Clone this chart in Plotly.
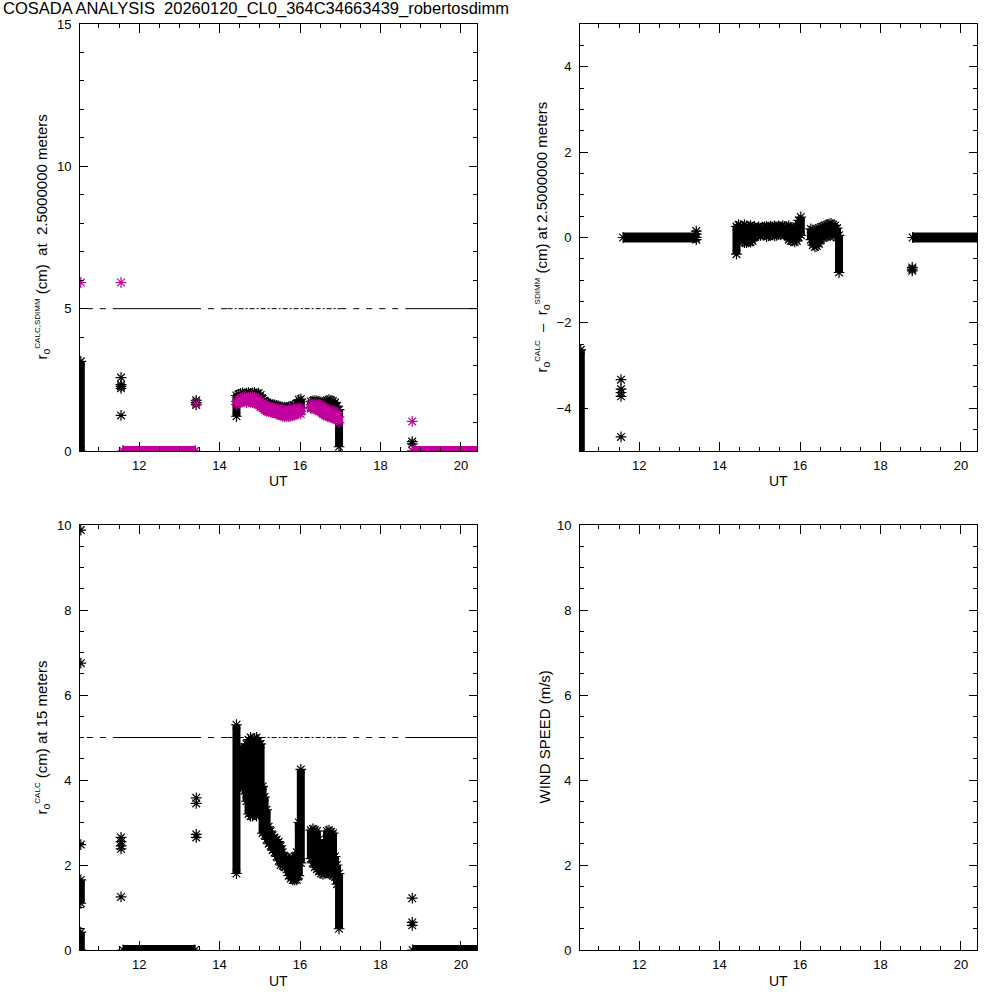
import plotly.graph_objects as go

# ---------------- data ----------------
TITLE = "COSADA ANALYSIS\u00a0 20260120_CL0_364C34663439_robertosdimm"
ut_ticks = [12, 14, 16, 18, 20]
ut_range = [10.53, 20.40]

# dense observing block (UT hours)
band_t = [14.42, 14.47, 14.52, 14.57, 14.62, 14.67, 14.72, 14.77, 14.82, 14.87,
          14.92, 14.97, 15.02, 15.07, 15.12, 15.17, 15.22, 15.27, 15.32, 15.37,
          15.42, 15.47, 15.52, 15.57, 15.62, 15.67, 15.72, 15.77, 15.82, 15.87,
          15.92, 15.97, 16.02, 16.07, 16.12, 16.17, 16.22, 16.27, 16.32, 16.37,
          16.42, 16.47, 16.52, 16.57, 16.62, 16.67, 16.72, 16.77, 16.82, 16.87,
          16.92, 16.97]
N = None
# r0 CALC at 2.5 m (black) - low / high of scatter per time
tl_blk_lo = [1.22, 1.73, 1.75, 1.77, 1.79, 1.75, 1.78, 1.76, 1.75, 1.73,
             1.71, 1.67, 1.60, 1.55, 1.49, 1.45, 1.43, 1.41, 1.40, 1.38,
             1.35, 1.33, 1.30, 1.27, 1.26, 1.25, 1.26, 1.27, 1.29, 1.31,
             1.35, 1.40, 1.40, N, N, N, N, 1.53, 1.55, 1.53,
             1.50, 1.45, 1.40, 1.35, 1.31, 1.27, 1.25, 1.23, 1.20, 1.17,
             1.15, 0.15]
tl_blk_hi = [1.95, 1.99, 2.02, 2.04, 2.01, 2.03, 2.05, 2.02, 2.04, 2.05,
             2.01, 2.03, 1.97, 1.83, 1.77, 1.71, 1.67, 1.65, 1.63, 1.62,
             1.60, 1.58, 1.55, 1.54, 1.53, 1.52, 1.55, 1.57, 1.60, 1.61,
             1.66, 1.80, 1.82, N, N, N, N, 1.74, 1.76, 1.77,
             1.76, 1.74, 1.72, 1.70, 1.72, 1.78, 1.80, 1.78, 1.75, 1.70,
             1.58, 1.45]
# r0 SDIMM at 2.5 m (magenta)
tl_mag_lo = [1.64, 1.68, 1.70, 1.72, 1.74, 1.70, 1.73, 1.71, 1.70, 1.68,
             1.66, 1.62, 1.55, 1.50, 1.44, 1.40, 1.38, 1.36, 1.35, 1.33,
             1.30, 1.28, 1.25, 1.22, 1.21, 1.20, 1.21, 1.22, 1.24, 1.26,
             1.30, 1.32, 1.30, N, N, N, N, 1.48, 1.50, 1.48,
             1.45, 1.40, 1.35, 1.30, 1.26, 1.22, 1.20, 1.18, 1.15, 1.12,
             1.10, 1.00]
tl_mag_hi = [1.74, 1.80, 1.84, 1.88, 1.90, 1.86, 1.89, 1.91, 1.87, 1.88,
             1.85, 1.82, 1.74, 1.68, 1.62, 1.58, 1.56, 1.55, 1.52, 1.50,
             1.49, 1.48, 1.46, 1.44, 1.43, 1.42, 1.44, 1.45, 1.46, 1.47,
             1.50, 1.52, 1.50, N, N, N, N, 1.62, 1.64, 1.66,
             1.65, 1.63, 1.60, 1.56, 1.52, 1.48, 1.45, 1.43, 1.40, 1.38,
             1.35, 1.20]
# r0 CALC - r0 SDIMM
tr_lo = [-0.39, -0.02, -0.05, -0.10, -0.12, -0.12, -0.10, -0.11, -0.08, 0.02,
         0.05, 0.05, 0.05, 0.08, 0.06, 0.02, 0.04, 0.05, 0.06, 0.04,
         0.05, 0.08, 0.06, 0.10, 0.05, 0.06, -0.05, -0.08, -0.08, -0.10,
         -0.08, 0.00, 0.05, N, N, N, N, -0.05, -0.18, -0.22,
         -0.20, -0.15, -0.05, 0.00, 0.02, 0.02, 0.05, 0.08, 0.05, 0.04,
         0.00, -0.82]
tr_hi = [0.26, 0.30, 0.28, 0.26, 0.30, 0.27, 0.25, 0.28, 0.24, 0.26,
         0.22, 0.25, 0.22, 0.24, 0.25, 0.26, 0.24, 0.26, 0.25, 0.27,
         0.25, 0.27, 0.25, 0.28, 0.26, 0.25, 0.27, 0.24, 0.20, 0.22,
         0.25, 0.40, 0.48, N, N, N, N, 0.20, 0.18, 0.15,
         0.18, 0.22, 0.24, 0.25, 0.28, 0.30, 0.32, 0.33, 0.30, 0.28,
         0.22, 0.05]
# r0 CALC at 15 m
bl_lo = [1.80, 3.90, 3.85, 3.80, 3.75, 3.50, 3.20, 3.15, 3.15, 3.20,
         3.15, 3.20, 3.30, 2.75, 2.70, 2.60, 2.50, 2.45, 2.35, 2.30,
         2.20, 2.10, 2.00, 1.98, 1.95, 1.90, 1.75, 1.68, 1.65, 1.65,
         1.65, 1.75, 2.05, N, N, N, N, 2.15, 2.05, 1.95,
         1.90, 1.85, 1.80, 1.78, 1.80, 1.82, 1.80, 1.78, 1.75, 1.72,
         1.55, 0.50]
bl_hi = [5.30, 4.75, 4.70, 4.72, 4.78, 4.85, 4.95, 5.00, 4.95, 4.98,
         5.00, 4.92, 4.85, 3.85, 3.60, 3.30, 2.90, 2.80, 2.70, 2.65,
         2.60, 2.55, 2.45, 2.30, 2.20, 2.18, 2.15, 2.12, 2.15, 2.20,
         2.30, 3.00, 4.25, N, N, N, N, 2.82, 2.85, 2.82,
         2.80, 2.60, 2.45, 2.40, 2.50, 2.80, 2.82, 2.78, 2.75, 2.20,
         2.00, 1.80]

# stacked samples at the start of the night (UT, low, high)
tl_col_t, tl_col_lo, tl_col_hi = [10.55], [0.0], [3.15]
tr_col_t, tr_col_lo, tr_col_hi = [10.55], [-5.3], [-2.63]
bl_col_t, bl_col_lo, bl_col_hi = [10.55, 10.55], [0.0, 1.10], [0.42, 1.65]

# isolated samples
tl_blk_pt_t = [11.55, 11.55, 11.55, 11.55, 11.55, 13.42, 13.42, 13.42, 18.79, 18.79]
tl_blk_pt_v = [2.58, 2.33, 2.27, 2.20, 1.25, 1.78, 1.70, 1.62, 0.33, 0.25]
tl_mag_pt_t = [10.55, 11.55, 13.42, 18.79]
tl_mag_pt_v = [5.92, 5.92, 1.66, 1.04]
tr_pt_t = [11.55, 11.55, 11.55, 11.55, 11.55, 13.42, 13.42, 13.42, 13.42, 18.79, 18.79, 18.79]
tr_pt_v = [-3.33, -3.55, -3.63, -3.72, -4.67, 0.15, 0.08, 0.00, -0.05, -0.70, -0.74, -0.78]
bl_pt_t = [10.55, 10.55, 10.55, 11.55, 11.55, 11.55, 11.55, 11.55, 13.42, 13.42, 13.42, 13.42,
           18.79, 18.79, 18.79]
bl_pt_v = [2.48, 6.75, 9.88, 2.65, 2.55, 2.45, 2.38, 1.25, 3.58, 3.45, 2.72, 2.65,
           1.22, 0.65, 0.58]

# runs of zero-valued samples (UT start, UT end)
zero_t0 = [11.60, 18.80]
zero_t1 = [13.39, 20.50]

# 5 cm reference level, drawn with IDL-like line styles per UT segment
ref_level = 5.0
ref_dash_t0 = [10.70, 13.39, 17.00]
ref_dash_t1 = [11.45, 14.20, 18.62]
ref_solid_t0 = [11.45, 18.62]
ref_solid_t1 = [13.39, 20.40]
ref_dot_t0 = [14.20]
ref_dot_t1 = [17.00]

# ---------------- styling ----------------
FONT = "Liberation Sans"
BLACK = "#000000"
MAGENTA = "#C2009E"
MSIZE = 9
COLW = 8

fig = go.Figure()


def add_points(ts, vs, color, xa, ya):
    fig.add_trace(go.Scatter(x=ts, y=vs, mode="markers",
                             marker=dict(symbol="asterisk-open", size=MSIZE, color=color,
                                         line=dict(color=color, width=1.2)),
                             xaxis=xa, yaxis=ya, hoverinfo="skip"))


def add_columns(ts, los, his, color, xa, ya):
    xs, ys, mx, my = [], [], [], []
    for t, lo, hi in zip(ts, los, his):
        if lo is None or hi is None:
            continue
        xs += [t, t, None]
        ys += [lo, hi, None]
        mx += [t, t]
        my += [lo, hi]
    fig.add_trace(go.Scatter(x=xs, y=ys, mode="lines", line=dict(color=color, width=COLW),
                             connectgaps=False, xaxis=xa, yaxis=ya, hoverinfo="skip"))
    add_points(mx, my, color, xa, ya)


def add_runs(t0s, t1s, value, color, xa, ya, width=COLW + 2, dash="solid", markers=True):
    xs, ys = [], []
    for a, b in zip(t0s, t1s):
        xs += [a, b, None]
        ys += [value, value, None]
    fig.add_trace(go.Scatter(x=xs, y=ys, mode="lines", line=dict(color=color, width=width, dash=dash),
                             connectgaps=False, xaxis=xa, yaxis=ya, hoverinfo="skip"))
    if markers:
        add_points(list(t0s) + list(t1s), [value] * (2 * len(t0s)), color, xa, ya)


def add_reference(xa, ya):
    add_runs(ref_dash_t0, ref_dash_t1, ref_level, BLACK, xa, ya, width=1, dash="6px,7px", markers=False)
    add_runs(ref_solid_t0, ref_solid_t1, ref_level, BLACK, xa, ya, width=1, markers=False)
    add_runs(ref_dot_t0, ref_dot_t1, ref_level, BLACK, xa, ya, width=1, dash="5px,2px,2px,2px", markers=False)


# top-left: r0 CALC (black) and r0 SDIMM (magenta) at 2.5 m
add_reference("x", "y")
add_columns(tl_col_t, tl_col_lo, tl_col_hi, BLACK, "x", "y")
add_points(tl_blk_pt_t, tl_blk_pt_v, BLACK, "x", "y")
add_runs(zero_t0, zero_t1, 0.0, BLACK, "x", "y")
add_columns(band_t, tl_blk_lo, tl_blk_hi, BLACK, "x", "y")
add_points(tl_mag_pt_t, tl_mag_pt_v, MAGENTA, "x", "y")
add_runs(zero_t0, zero_t1, 0.0, MAGENTA, "x", "y")
add_columns(band_t, tl_mag_lo, tl_mag_hi, MAGENTA, "x", "y")

# top-right: difference
add_columns(tr_col_t, tr_col_lo, tr_col_hi, BLACK, "x2", "y2")
add_points(tr_pt_t, tr_pt_v, BLACK, "x2", "y2")
add_runs(zero_t0, zero_t1, 0.0, BLACK, "x2", "y2")
add_columns(band_t, tr_lo, tr_hi, BLACK, "x2", "y2")

# bottom-left: r0 CALC at 15 m
add_reference("x3", "y3")
add_columns(bl_col_t, bl_col_lo, bl_col_hi, BLACK, "x3", "y3")
add_points(bl_pt_t, bl_pt_v, BLACK, "x3", "y3")
add_runs(zero_t0, zero_t1, 0.0, BLACK, "x3", "y3")
add_columns(band_t, bl_lo, bl_hi, BLACK, "x3", "y3")

# bottom-right: wind speed (no data)
fig.add_trace(go.Scatter(x=[], y=[], mode="markers", xaxis="x4", yaxis="y4"))

XL = [0.080, 0.477]
XR = [0.580, 0.977]
YT = [0.549, 0.976]
YB = [0.050, 0.475]


def xaxis_cfg(dom, anchor):
    return dict(domain=dom, anchor=anchor, range=ut_range, tickmode="array", tickvals=ut_ticks,
                ticktext=[str(v) for v in ut_ticks], automargin=False,
                showline=True, linecolor=BLACK, linewidth=1, mirror="ticks",
                ticks="inside", ticklen=9, tickwidth=1, tickcolor=BLACK,
                minor=dict(ticks="inside", ticklen=4, tickwidth=1, tickcolor=BLACK, dtick=0.5, tick0=0,
                           showgrid=False),
                showgrid=False, zeroline=False,
                tickfont=dict(family=FONT, size=13, color=BLACK), ticklabelstandoff=2)


def yaxis_cfg(dom, anchor, rng, dtick, mdtick):
    return dict(domain=dom, anchor=anchor, range=rng, tickmode="linear", tick0=0, dtick=dtick,
                automargin=False,
                showline=True, linecolor=BLACK, linewidth=1, mirror="ticks",
                ticks="inside", ticklen=8, tickwidth=1, tickcolor=BLACK,
                minor=dict(ticks="inside", ticklen=4, tickwidth=1, tickcolor=BLACK, dtick=mdtick, tick0=0,
                           showgrid=False),
                showgrid=False, zeroline=False,
                tickfont=dict(family=FONT, size=13, color=BLACK), ticklabelstandoff=5)


SUP = '<sup><span style="font-size:8px">%s</span></sup>'
ytitles = [
    ("r<sub>o</sub>" + SUP % "CALC,SDIMM" + " (cm)  at  2.5000000 meters", 0.042, sum(YT) / 2),
    ("r<sub>o</sub>" + SUP % "CALC" + "  \u2013  r<sub>o</sub>" + SUP % "SDIMM" + " (cm) at 2.5000000 meters",
     0.542, sum(YT) / 2),
    ("r<sub>o</sub>" + SUP % "CALC" + " (cm) at 15 meters", 0.042, sum(YB) / 2),
    ("WIND SPEED (m/s)", 0.544, sum(YB) / 2),
]

annotations = [dict(text=TITLE, x=0.001, y=0.9915, xref="paper", yref="paper", xanchor="left",
                    yanchor="middle", showarrow=False, font=dict(family=FONT, size=16.5, color=BLACK))]
for txt, ax, ay in ytitles:
    annotations.append(dict(text=txt, x=ax, y=ay, xref="paper", yref="paper", xanchor="center",
                            yanchor="middle", textangle=-90, showarrow=False,
                            font=dict(family=FONT, size=15, color=BLACK)))
for dom, yy in [(XL, 0.519), (XR, 0.519), (XL, 0.019), (XR, 0.019)]:
    annotations.append(dict(text="UT", x=sum(dom) / 2, y=yy, xref="paper", yref="paper",
                            xanchor="center", yanchor="middle", showarrow=False,
                            font=dict(family=FONT, size=14, color=BLACK)))

fig.update_layout(
    width=1000, height=1000, margin=dict(l=0, r=0, t=0, b=0, pad=0, autoexpand=False),
    paper_bgcolor="white", plot_bgcolor="white", showlegend=False,
    xaxis=xaxis_cfg(XL, "y"), yaxis=yaxis_cfg(YT, "x", [0, 15], 5, 1),
    xaxis2=xaxis_cfg(XR, "y2"), yaxis2=yaxis_cfg(YT, "x2", [-5, 5], 2, 0.5),
    xaxis3=xaxis_cfg(XL, "y3"), yaxis3=yaxis_cfg(YB, "x3", [0, 10], 2, 0.5),
    xaxis4=xaxis_cfg(XR, "y4"), yaxis4=yaxis_cfg(YB, "x4", [0, 10], 2, 0.5),
    annotations=annotations,
)

fig.write_html("out.html", config={"displayModeBar": False},
               post_script="document.body.style.margin='0px';document.body.style.overflow='hidden';")
